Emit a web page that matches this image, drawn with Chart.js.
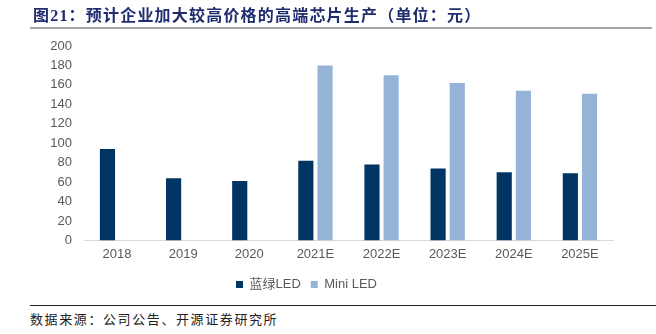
<!DOCTYPE html>
<html>
<head>
<meta charset="utf-8">
<script src="https://cdn.jsdelivr.net/npm/chart.js@4.4.1/dist/chart.umd.min.js"></script>
<style>
  html, body { margin: 0; padding: 0; background: #fff; }
  #wrap { position: relative; width: 656px; height: 334px; overflow: hidden; }
  #title {
    position: absolute; left: 33px; top: 2px;
    font-family: "Liberation Serif", "Noto Sans CJK SC", serif;
    font-weight: bold; font-size: 16px; letter-spacing: 1.2px; color: #1F2C6E; white-space: nowrap;
  }
  #titleLine { position: absolute; left: 30px; top: 27px; width: 622px; height: 2px; background: #A6A6A6; }
  #footLine { position: absolute; left: 30px; top: 305px; width: 626px; height: 1px; background: #222; }
  #source {
    position: absolute; left: 30px; top: 309px;
    font-family: "Noto Sans CJK SC", sans-serif; font-size: 13px; letter-spacing: 1.6px;
    color: #222; white-space: nowrap;
  }
  #chartBox { position: absolute; left: 0; top: 0; width: 656px; height: 305px; }
</style>
</head>
<body>
<div id="wrap">
  <div id="chartBox"><canvas id="ledChart"></canvas></div>
  <div id="title">图21：预计企业加大较高价格的高端芯片生产（单位：元）</div>
  <div id="titleLine"></div>
  <div id="footLine"></div>
  <div id="source">数据来源：公司公告、开源证券研究所</div>
</div>
<script>
const years = ['2018', '2019', '2020', '2021E', '2022E', '2023E', '2024E', '2025E'];
const blueGreenLed = [94, 64, 61, 82, 78, 74, 70, 69];
const miniLed = [null, null, null, 180, 170, 162, 154, 151];

const ctx = document.getElementById('ledChart').getContext('2d');

const ledChart = new Chart(ctx, {
    type: 'bar',
    data: {
        labels: years,
        datasets: [
          {
            label: '蓝绿LED',
            data: blueGreenLed,
            backgroundColor: '#003462'
          },
          {
            label: 'Mini LED',
            data: miniLed,
            backgroundColor: '#95B3D7'
          }]
    },
    options: {
      responsive: true,
      maintainAspectRatio: false,
      animation: false,
      datasets: {
        bar: { categoryPercentage: 0.58, barPercentage: 0.79 }
      },
      layout: { padding: { left: 0, right: 43, top: 46, bottom: 4 } },
      plugins: {
        tooltip: { enabled: false },
        legend: {
          position: 'bottom',
          labels: {
            boxWidth: 7, boxHeight: 7, padding: 10,
            color: '#595959',
            font: { family: 'Liberation Sans, Noto Sans CJK SC', size: 13 }
          }
        }
      },
      scales: {
        x: {
          grid: { display: false, drawTicks: false },
          border: { color: '#D9D9D9', width: 1 },
          ticks: {
            color: '#595959', padding: 6,
            font: { family: 'Liberation Sans', size: 13 }
          }
        },
        y: {
          min: 0, max: 200,
          grid: { display: false, drawTicks: false },
          border: { display: false },
          afterFit: (scale) => { scale.width = 84; },
          ticks: {
            stepSize: 20, autoSkip: false, color: '#595959', padding: 12,
            font: { family: 'Liberation Sans', size: 13 }
          }
        }
      }
    }
});
</script>
</body>
</html>
